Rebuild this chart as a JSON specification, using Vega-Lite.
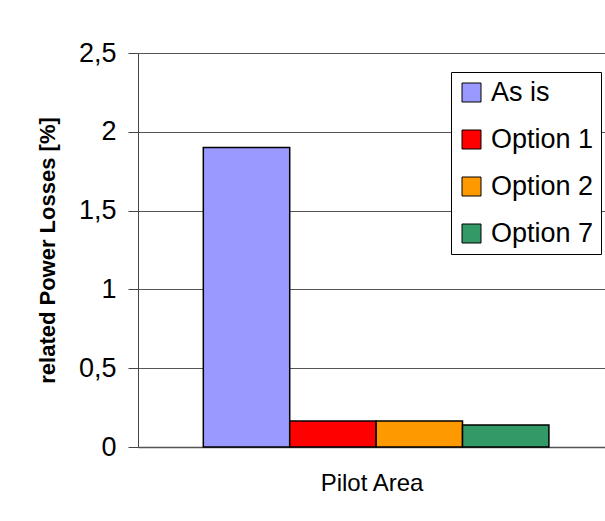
{
  "$schema": "https://vega.github.io/schema/vega-lite/v6.json",
  "autosize": "none",
  "padding": {"left": 138, "top": 53, "right": 0, "bottom": 74},
  "width": 467,
  "height": 394,
  "background": "white",
  "config": {
    "font": "Liberation Sans",
    "view": {"stroke": null}
  },
  "data": {
    "values": [
      {"area": "Pilot Area", "series": "As is", "value": 1.9},
      {"area": "Pilot Area", "series": "Option 1", "value": 0.165},
      {"area": "Pilot Area", "series": "Option 2", "value": 0.165},
      {"area": "Pilot Area", "series": "Option 7", "value": 0.14}
    ]
  },
  "mark": {"type": "bar", "stroke": "black", "strokeWidth": 1.5},
  "encoding": {
    "x": {
      "field": "series",
      "type": "nominal",
      "scale": {"paddingInner": 0, "paddingOuter": 0.7025, "align": 0.538},
      "axis": {
        "title": "Pilot Area",
        "labels": false,
        "ticks": false,
        "domainColor": "#555",
        "domainWidth": 1.5,
        "titleFontSize": 24,
        "titleFontWeight": "normal",
        "titleColor": "black",
        "titlePadding": 24
      }
    },
    "y": {
      "field": "value",
      "type": "quantitative",
      "scale": {"domain": [0, 2.5], "nice": false},
      "axis": {
        "title": "related Power Losses [%]",
        "values": [0, 0.5, 1, 1.5, 2, 2.5],
        "labelExpr": "replace(format(datum.value, '.1~f'), '.', ',')",
        "labelFontSize": 27,
        "labelColor": "black",
        "labelPadding": 12,
        "tickSize": 10,
        "tickColor": "#444",
        "domainColor": "#444",
        "gridColor": "#555",
        "gridWidth": 1,
        "titleFontSize": 22,
        "titleFontWeight": "bold",
        "titleColor": "black",
        "titleX": -91,
        "titleY": 197,
        "titleBaseline": "middle"
      }
    },
    "color": {
      "field": "series",
      "type": "nominal",
      "scale": {
        "domain": ["As is", "Option 1", "Option 2", "Option 7"],
        "range": ["#9999FF", "#FF0000", "#FF9900", "#339966"]
      },
      "legend": {
        "title": null,
        "orient": "none",
        "legendX": 313,
        "legendY": 19,
        "symbolType": "square",
        "symbolSize": 361,
        "symbolStrokeColor": "black",
        "symbolStrokeWidth": 1,
        "symbolOpacity": 1,
        "labelFontSize": 27,
        "labelColor": "black",
        "labelOffset": 6,
        "rowPadding": 19,
        "padding": 7,
        "strokeColor": "black",
        "fillColor": "white"
      }
    }
  }
}
